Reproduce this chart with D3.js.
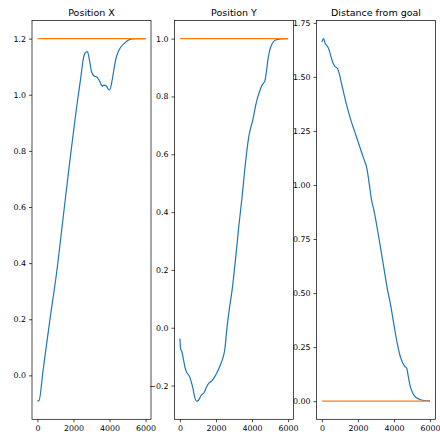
<!DOCTYPE html>
<html>
<head>
<meta charset="utf-8">
<script src="https://cdn.jsdelivr.net/npm/d3@7"></script>
<style>
  body { margin: 0; background: #fff; }
  svg { display: block; font-family: "DejaVu Sans", sans-serif; }
</style>
</head>
<body>
<div id="chart"></div>
<script>
const titles = ["Position X", "Position Y", "Distance from goal"];

const posXSteps = [0, 90, 317, 690, 1061, 1434, 1806, 2179, 2402, 2551, 2644, 2775, 2886, 2998, 3147, 3296, 3445, 3594, 3706, 3818, 3929, 4004, 4115, 4227, 4339, 4488, 4637, 4823, 5009, 5251, 5531, 6000];
const posXValues = [-0.092, -0.09, 0.019, 0.197, 0.364, 0.566, 0.768, 0.958, 1.059, 1.13, 1.148, 1.154, 1.124, 1.083, 1.067, 1.063, 1.049, 1.031, 1.034, 1.031, 1.02, 1.017, 1.041, 1.083, 1.124, 1.154, 1.171, 1.183, 1.193, 1.199, 1.2, 1.2];

const posYSteps = [0, 37, 111, 204, 297, 390, 520, 631, 724, 816, 928, 1039, 1187, 1336, 1484, 1633, 1781, 1929, 2078, 2245, 2375, 2486, 2616, 2746, 2894, 3080, 3265, 3451, 3636, 3822, 4045, 4230, 4416, 4564, 4713, 4787, 4880, 4991, 5121, 5306, 5584, 6000];
const posYValues = [-0.037, -0.072, -0.083, -0.112, -0.141, -0.156, -0.167, -0.187, -0.21, -0.239, -0.254, -0.25, -0.233, -0.225, -0.204, -0.19, -0.183, -0.17, -0.152, -0.129, -0.106, -0.077, 0.003, 0.067, 0.13, 0.234, 0.35, 0.454, 0.57, 0.662, 0.719, 0.777, 0.817, 0.84, 0.854, 0.881, 0.927, 0.962, 0.983, 0.995, 0.999, 1.0];

const distSteps = [0, 92, 185, 314, 406, 498, 609, 720, 867, 959, 1089, 1236, 1421, 1605, 1790, 1974, 2159, 2343, 2491, 2620, 2749, 2897, 3081, 3266, 3450, 3635, 3819, 4004, 4188, 4336, 4465, 4594, 4705, 4797, 4889, 5018, 5203, 5443, 5664, 6000];
const distValues = [1.661, 1.677, 1.654, 1.641, 1.623, 1.595, 1.565, 1.549, 1.539, 1.516, 1.469, 1.416, 1.354, 1.3, 1.254, 1.208, 1.162, 1.116, 1.078, 1.009, 0.932, 0.878, 0.794, 0.702, 0.61, 0.517, 0.441, 0.349, 0.264, 0.21, 0.18, 0.161, 0.152, 0.111, 0.072, 0.041, 0.018, 0.008, 0.003, 0.0015];

const goalSteps = [0, 6000];
const goalValues = [1.2, 1.0, 0.0];

const xTickValues = [0, 2000, 4000, 6000];
const yTickValues = [
  [0.0, 0.2, 0.4, 0.6, 0.8, 1.0, 1.2],
  [-0.2, 0.0, 0.2, 0.4, 0.6, 0.8, 1.0],
  [0.0, 0.25, 0.5, 0.75, 1.0, 1.25, 1.5, 1.75]
];
const yTickFormats = [".1f", ".1f", ".2f"];

const series = [
  { steps: posXSteps, values: posXValues },
  { steps: posYSteps, values: posYValues },
  { steps: distSteps, values: distValues }
];

const width = 440;
const height = 439;
const panelLefts = [32, 174.5, 316.5];
const panelWidth = 119;
const plotTop = 20.5;
const plotBottom = 419.3;

const svg = d3.select("#chart")
  .append("svg")
  .attr("width", width)
  .attr("height", height);

function padded(extent) {
  const span = extent[1] - extent[0];
  return [extent[0] - span * 0.05, extent[1] + span * 0.05];
}

series.forEach((s, i) => {
  const left = panelLefts[i];
  const g = svg.append("g");

  const xScale = d3.scaleLinear()
    .domain(padded(d3.extent(goalSteps.concat(s.steps))))
    .range([left, left + panelWidth]);

  const yScale = d3.scaleLinear()
    .domain(padded(d3.extent(s.values.concat([goalValues[i]]))))
    .range([plotBottom, plotTop]);

  const line = d3.line()
    .x(d => xScale(d[0]))
    .y(d => yScale(d[1]))
    .curve(d3.curveMonotoneX);

  g.append("path")
    .datum(s.steps.map((t, k) => [t, s.values[k]]))
    .attr("fill", "none")
    .attr("stroke", "#1f77b4")
    .attr("stroke-width", 1.2)
    .attr("d", line);

  g.append("path")
    .datum(goalSteps.map(t => [t, goalValues[i]]))
    .attr("fill", "none")
    .attr("stroke", "#ff7f0e")
    .attr("stroke-width", 1.2)
    .attr("d", d3.line().x(d => xScale(d[0])).y(d => yScale(d[1])));

  const xAxis = d3.axisBottom(xScale)
    .tickValues(xTickValues)
    .tickFormat(d3.format("d"))
    .tickSize(3)
    .tickPadding(3);

  const yAxis = d3.axisLeft(yScale)
    .tickValues(yTickValues[i])
    .tickFormat(d3.format(yTickFormats[i]))
    .tickSize(3)
    .tickPadding(3);

  const xg = g.append("g")
    .attr("transform", `translate(0,${plotBottom})`)
    .call(xAxis);
  const yg = g.append("g")
    .attr("transform", `translate(${left},0)`)
    .call(yAxis);

  [xg, yg].forEach(ax => {
    ax.select(".domain").remove();
    ax.selectAll("line").attr("stroke", "#000").attr("stroke-width", 0.7);
    ax.selectAll("text")
      .attr("fill", "#000")
      .style("font-size", "7.9px")
      .style("font-family", "DejaVu Sans, sans-serif");
  });

  g.append("rect")
    .attr("x", left)
    .attr("y", plotTop)
    .attr("width", panelWidth)
    .attr("height", plotBottom - plotTop)
    .attr("fill", "none")
    .attr("stroke", "#000")
    .attr("stroke-width", 0.7);

  g.append("text")
    .attr("x", left + panelWidth / 2)
    .attr("y", plotTop - 5)
    .attr("text-anchor", "middle")
    .style("font-size", "9.5px")
    .text(titles[i]);
});
</script>
</body>
</html>
